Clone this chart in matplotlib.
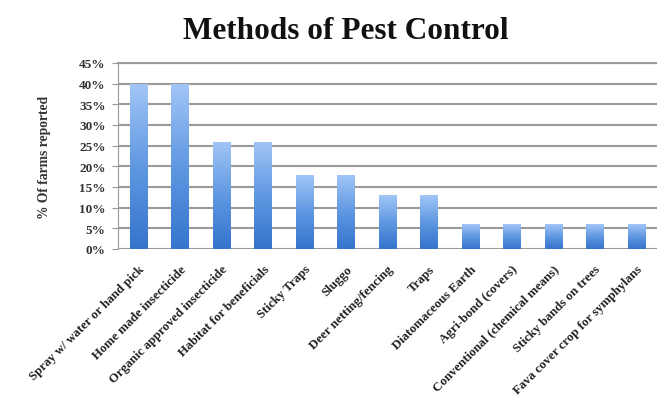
import numpy as np
import matplotlib
matplotlib.use("Agg")
import matplotlib.pyplot as plt
from matplotlib.colors import LinearSegmentedColormap
from matplotlib.ticker import PercentFormatter

methods = [
    "Spray w/ water or hand pick",
    "Home made insecticide",
    "Organic approved insecticide",
    "Habitat for beneficials",
    "Sticky Traps",
    "Sluggo",
    "Deer netting/fencing",
    "Traps",
    "Diatomaceous Earth",
    "Agri-bond (covers)",
    "Conventional (chemical means)",
    "Sticky bands on trees",
    "Fava cover crop for symphylans",
]
percent_farms = [40, 40, 26, 26, 18, 18, 13, 13, 6, 6, 6, 6, 6]
y_ticks = [0, 5, 10, 15, 20, 25, 30, 35, 40, 45]

fig = plt.figure(figsize=(6.57, 4.06), dpi=100)
ax = fig.add_axes([118 / 657, 1 - 250 / 406, 1 - 118 / 657, (250 - 64) / 406])

x = np.arange(len(methods))
bars = ax.bar(x, percent_farms, width=0.42, color="none", edgecolor="none", zorder=3)

# excel-like vertical gradient inside each bar
cmap = LinearSegmentedColormap.from_list("blue_grad", ["#3474cc", "#6098e2", "#a2c6f6"])
grad = np.linspace(0, 1, 256).reshape(-1, 1)
for b in bars:
    x0, w, h = b.get_x(), b.get_width(), b.get_height()
    im = ax.imshow(grad, cmap=cmap, aspect="auto", origin="lower",
                   extent=[x0, x0 + w, 0, h], zorder=3)
    im.set_clip_path(b)

ax.set_xlim(-0.5, len(methods) - 0.5)
ax.set_ylim(0, 45)
ax.set_yticks(y_ticks)
ax.yaxis.set_major_formatter(PercentFormatter(decimals=0))
ax.grid(axis="y", color="#9a9a9a", linewidth=1.5, zorder=0)
ax.set_axisbelow(True)
for s in ["right", "bottom"]:
    ax.spines[s].set_visible(False)
ax.spines["left"].set_color("#9a9a9a")
ax.spines["top"].set_color("#9a9a9a")
ax.spines["top"].set_linewidth(1.5)
ax.tick_params(axis="y", length=4, color="#9a9a9a", labelsize=9.5, pad=5)
ax.tick_params(axis="x", length=0, pad=10)
for t in ax.get_yticklabels():
    t.set_fontfamily("Liberation Serif")
    t.set_fontweight("bold")
    t.set_color("#333333")

ax.set_xticks(x)
ax.set_xticklabels(methods, rotation=45, ha="right", rotation_mode="anchor",
                   fontsize=9.3, fontweight="bold", family="Liberation Serif", color="#222222")

ax.set_ylabel("% Of farms reported", fontsize=9.8, fontweight="bold",
              family="Liberation Serif", color="#333333", labelpad=20)

fig.text(0.527, 0.923, "Methods of Pest Control", ha="center", va="center",
         fontsize=22.5, fontweight="bold", family="Liberation Serif", color="#111111")

fig.savefig("out.png", dpi=100)
